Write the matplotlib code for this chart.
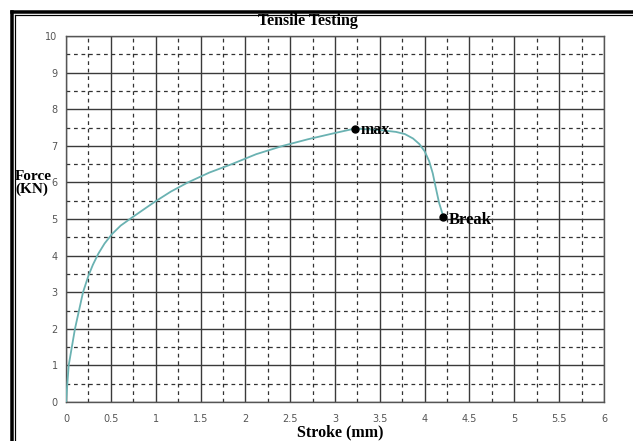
# Tensile test: force against stroke, with max and break points marked.
import numpy as np
import matplotlib
matplotlib.use("Agg")
import matplotlib.pyplot as plt
from matplotlib.lines import Line2D

# curve
stroke_mm = [0, 0.03, 0.10, 0.19, 0.25, 0.30, 0.36, 0.43, 0.51, 0.61, 0.73, 0.86,
             0.99, 1.17, 1.36, 1.60, 1.85, 2.12, 2.42, 2.70, 3.00, 3.22, 3.50,
             3.68, 3.78, 3.87, 3.94, 4.00, 4.05, 4.09, 4.12, 4.16, 4.21]
force_kn = [0, 1.0, 2.0, 3.0, 3.45, 3.75, 4.05, 4.33, 4.58, 4.82, 5.03, 5.25,
            5.47, 5.75, 6.0, 6.27, 6.5, 6.77, 7.0, 7.18, 7.35, 7.47, 7.43,
            7.38, 7.32, 7.2, 7.05, 6.85, 6.58, 6.25, 5.9, 5.45, 5.05]
max_pt = (3.22, 7.47)
break_pt = (4.21, 5.05)
x_ticks = [0, 0.5, 1, 1.5, 2, 2.5, 3, 3.5, 4, 4.5, 5, 5.5, 6]
x_labels = ["0", "0.5", "1", "1.5", "2", "2.5", "3", "3.5", "4", "4.5", "5", "5.5", "6"]
y_ticks = list(range(0, 11))

SERIF = ["Liberation Serif", "DejaVu Serif"]
W, H = 633, 441

fig = plt.figure(figsize=(W / 100, H / 100), dpi=100)
ax = fig.add_axes([66 / W, 1 - 402 / H, (604 - 66) / W, (402 - 36) / H])

ax.set_xlim(0, 6)
ax.set_ylim(0, 10)
ax.set_xticks(x_ticks)
ax.set_xticklabels(x_labels)
ax.set_yticks(y_ticks)
ax.set_xticks(np.arange(0.25, 6, 0.5), minor=True)
ax.set_yticks(np.arange(0.5, 10, 1.0), minor=True)
ax.tick_params(which="both", length=0)
ax.tick_params(axis="x", pad=9, labelsize=7, labelcolor="#555555")
ax.tick_params(axis="y", pad=6, labelsize=7, labelcolor="#555555")
ax.grid(which="major", color="#3a3a3a", lw=1.0, ls="-")
ax.grid(which="minor", color="#333333", lw=0.9, ls=(0, (3, 3)))
for s in ax.spines.values():
    s.set_color("#555555")
    s.set_linewidth(1.0)

ax.plot(stroke_mm, force_kn, color="#6ab2b2", lw=1.3, zorder=3)
ax.plot(*max_pt, "o", color="black", ms=5, zorder=4)
ax.plot(*break_pt, "o", color="black", ms=5, zorder=4)
ax.annotate("max", max_pt, xytext=(4, -1), textcoords="offset points", va="center",
            fontsize=11.5, fontweight="bold", family=SERIF)
ax.annotate("Break", break_pt, xytext=(4, -2), textcoords="offset points", va="center",
            fontsize=12, fontweight="bold", family=SERIF)

fig.text(308 / W, 1 - 21 / H, "Tensile Testing", ha="center", va="center",
         fontsize=11.5, fontweight="bold", family=SERIF)
fig.text(15 / W, 1 - 183 / H, "Force\n(KN)", ha="left", va="center",
         fontsize=11, fontweight="bold", family=SERIF, linespacing=1.0)
fig.text(340 / W, 1 - 432 / H, "Stroke (mm)", ha="center", va="center",
         fontsize=11.5, fontweight="bold", family=SERIF)

# double frame on the top and left edges
for off, lw in ((11.5, 3.5), (15, 1.2)):
    fig.add_artist(Line2D([off / W, off / W], [0, 1 - off / H], color="black", lw=lw * 0.72))
    fig.add_artist(Line2D([off / W, 1], [1 - off / H, 1 - off / H], color="black", lw=lw * 0.72))

fig.savefig("out.png", dpi=100)
